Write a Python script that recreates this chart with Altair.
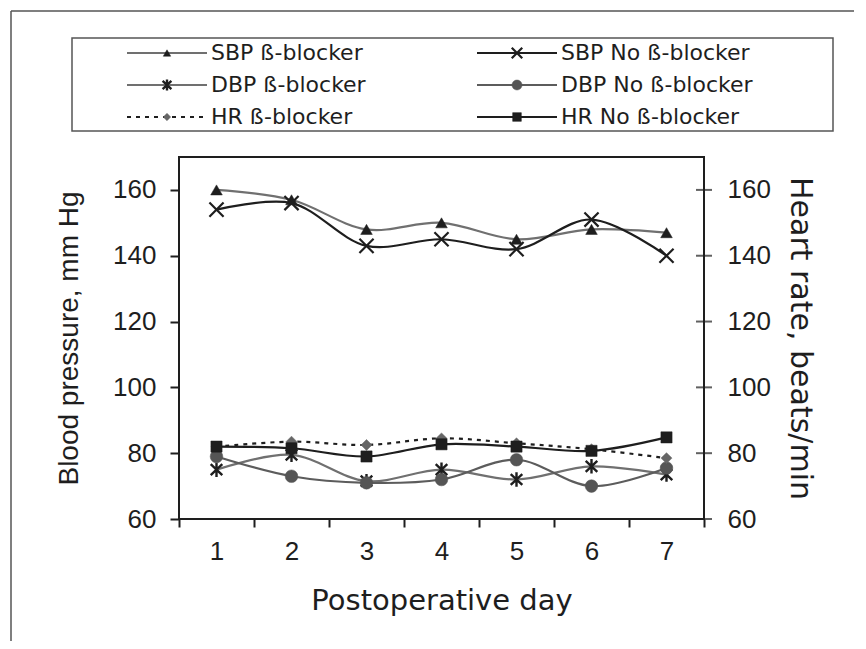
import altair as alt
import pandas as pd

# ---------------- data ----------------
days = [1, 2, 3, 4, 5, 6, 7]
sbp_bb = [160, 157, 148, 150, 145, 148, 147]
sbp_nobb = [154, 156, 143, 145, 142, 151, 140]
dbp_bb = [75, 79.5, 71.5, 75, 72, 76, 73.5]
dbp_nobb = [79, 73, 71, 72, 78, 70, 75.5]
hr_bb = [82, 83.5, 82.5, 84.5, 83, 81.2, 78.5]
hr_nobb = [82, 81.5, 79, 82.7, 82, 80.7, 84.8]

series = ["SBP ß-blocker", "SBP No ß-blocker", "DBP ß-blocker",
          "DBP No ß-blocker", "HR ß-blocker", "HR No ß-blocker"]
values = [sbp_bb, sbp_nobb, dbp_bb, dbp_nobb, hr_bb, hr_nobb]
legend_col = [0, 1, 0, 1, 0, 1]
legend_row = [0, 0, 1, 1, 2, 2]

y_ticks = [60, 80, 100, 120, 140, 160]
x_ticks = [0.5, 1, 1.5, 2, 2.5, 3, 3.5, 4, 4.5, 5, 5.5, 6, 6.5, 7, 7.5]

rows = []
for s, vals in zip(series, values):
    for d, v in zip(days, vals):
        rows.append({"day": d, "value": v, "series": s})
df = pd.DataFrame(rows)
leg_df = pd.DataFrame({"series": series, "col": legend_col, "row": legend_row})
tick_df = pd.DataFrame({"value": y_ticks})

# ---------------- styles ----------------
FONT = "DejaVu Sans"
LFONT = "Liberation Sans"
INK = "#1e1e1e"
X_PATH = "M-1,-1L1,1M-1,1L1,-1"
AST_PATH = "M-0.8,-0.75L0.8,0.75M-0.8,0.75L0.8,-0.75M0,-1L0,1"
line_colors = ["#707070", INK, "#707070", "#5c5c5c", INK, INK]
dashes = [None, None, None, None, [4, 5], None]
shapes = ["triangle-up", X_PATH, AST_PATH, "circle", "diamond", "square"]
fills = [INK, "transparent", "transparent", "#555555", "#666666", INK]
strokes = [INK, INK, INK, "#555555", "#666666", INK]
stroke_w = [0.5, 2.2, 2.4, 0.5, 0.5, 0.5]
sizes = [135, 200, 210, 160, 120, 125]
leg_sizes = [55, 110, 120, 100, 55, 75]

W, H = 525, 362

xscale = alt.Scale(domain=[0.5, 7.5], nice=False, zero=False)
ydom = alt.Scale(domain=[60, 170], nice=False, zero=False)

x_main = alt.X("day:Q", scale=xscale,
               axis=alt.Axis(values=x_ticks,
                             labelExpr="datum.value % 1 == 0 ? format(datum.value, 'd') : ''",
                             tickOpacity={"condition": {"test": "datum.value % 1 != 0", "value": 1}, "value": 0},
                             tickSize=8, tickWidth=2, tickColor=INK, domain=False, grid=False,
                             labelFontSize=26, labelPadding=11, labelColor=INK, labelFont=LFONT,
                             labelFlush=False, labelOverlap=False,
                             title="Postoperative day", titleFontSize=29, titleFontWeight="normal",
                             titleColor=INK, titleFont=FONT, titlePadding=22))
x_hidden = alt.X("day:Q", scale=xscale, axis=None)
y_left = alt.Y("value:Q", scale=ydom,
               axis=alt.Axis(values=y_ticks, orient="left", tickSize=9, tickWidth=2, tickColor=INK,
                             domain=False, grid=False, labelFontSize=26, labelPadding=14,
                             labelColor=INK, labelFont=LFONT,
                             title="Blood pressure, mm Hg", titleFontSize=28, titleFontWeight="normal",
                             titleColor=INK, titleFont=LFONT, titlePadding=29))
y_right = alt.Y("value:Q", scale=ydom,
                axis=alt.Axis(values=y_ticks, orient="right", ticks=False, tickSize=0,
                              domain=False, grid=False, labelFontSize=26, labelPadding=23,
                              labelColor=INK, labelFont=LFONT,
                              title="Heart rate, beats/min", titleFontSize=30, titleFontWeight="normal",
                              titleColor=INK, titleFont=FONT, titlePadding=14))


def series_layers(i, x_enc, y_enc):
    base = alt.Chart(df).transform_filter(alt.datum.series == series[i])
    line_kw = dict(color=line_colors[i], strokeWidth=2.2, interpolate="catmull-rom")
    if dashes[i] is not None:
        line_kw["strokeDash"] = dashes[i]
    ln = base.mark_line(**line_kw).encode(x=x_enc, y=y_enc)
    pt = base.mark_point(shape=shapes[i], filled=True, fill=fills[i], stroke=strokes[i],
                         strokeWidth=stroke_w[i], size=sizes[i], opacity=1).encode(x=x_enc, y=y_enc)
    return [ln, pt]


bp_layers = []
for i in range(4):
    bp_layers += series_layers(i, x_main, y_left)
bp = alt.layer(*bp_layers)

# right axis: crossing tick marks drawn from the tick values, then HR series
hr_layers = [alt.Chart(tick_df).mark_tick(color=INK, thickness=2, size=16, orient="horizontal").encode(
    y=y_right, x=alt.value(W))]
for i in range(4, 6):
    hr_layers += series_layers(i, x_hidden, y_right)
hr = alt.layer(*hr_layers)

# ---------------- legend ----------------
lx = alt.X("col:Q", scale=alt.Scale(domain=[0, 1], range=[-12, 338]), axis=None)
ly = alt.Y("row:Q", scale=alt.Scale(domain=[0, 2], range=[-104, -40]), axis=None)
leg_layers = []
for i in range(6):
    b = alt.Chart(leg_df).transform_filter(alt.datum.series == series[i])
    rkw = dict(color=line_colors[i], strokeWidth=2.2, xOffset=-40, x2Offset=40)
    if dashes[i] is not None:
        rkw["strokeDash"] = dashes[i]
    leg_layers.append(b.mark_rule(**rkw).encode(x=lx, x2=alt.X2("col"), y=ly))
    leg_layers.append(b.mark_point(shape=shapes[i], filled=True, fill=fills[i], stroke=strokes[i],
                                   strokeWidth=stroke_w[i], size=leg_sizes[i], opacity=1).encode(x=lx, y=ly))
    leg_layers.append(b.mark_text(align="left", baseline="middle", dx=44, fontSize=22, font=FONT,
                                  color=INK).encode(x=lx, y=ly, text="series:N"))
legend_box = alt.Chart(leg_df.head(1)).mark_rect(fill="transparent", stroke="#555555", strokeWidth=1.5).encode(
    x=alt.value(-107), x2=alt.value(654), y=alt.value(-119), y2=alt.value(-26))
frame_top = alt.Chart(leg_df.head(1)).mark_rule(color="#555555", strokeWidth=1.5).encode(
    x=alt.value(-168), x2=alt.value(700), y=alt.value(-146))
frame_left = alt.Chart(leg_df.head(1)).mark_rule(color="#555555", strokeWidth=1.5).encode(
    x=alt.value(-168), y=alt.value(-146), y2=alt.value(500))
legend = alt.layer(legend_box, frame_top, frame_left, *leg_layers)

chart = alt.layer(bp, hr, legend).resolve_scale(
    x="independent", y="independent"
).properties(
    width=W, height=H, background="white",
    autosize=alt.AutoSizeParams(type="none"),
    padding={"left": 171, "top": 149, "right": 150, "bottom": 122},
).configure_view(stroke=INK, strokeWidth=2)

chart.save("out.html", embed_options={"renderer": "svg", "actions": False})
